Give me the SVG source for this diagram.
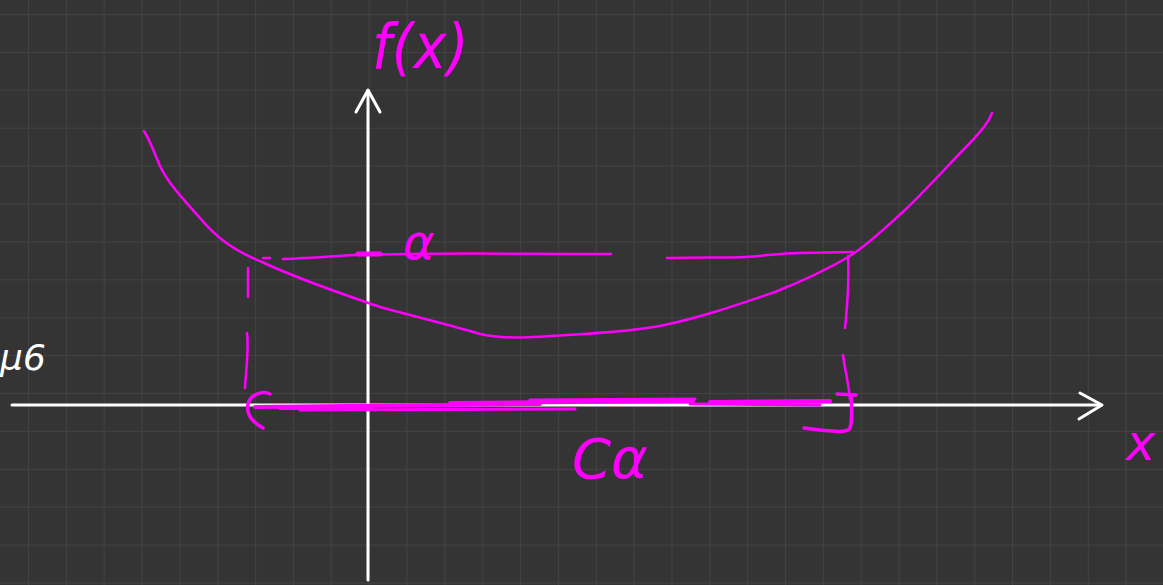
<svg xmlns="http://www.w3.org/2000/svg" width="1163" height="585" viewBox="0 0 1163 585">
  <defs>
    <pattern id="grid" x="28" y="14" width="37.85" height="37.9" patternUnits="userSpaceOnUse">
      <path d="M0 0 H37.85 M0 0 V37.9" fill="none" stroke="#424242" stroke-width="2"/>
    </pattern>
    <style>
      .ink { fill: none; stroke: #ff00ff; stroke-linecap: round; stroke-linejoin: round; }
      .axis { fill: none; stroke: #ffffff; stroke-width: 3; stroke-linecap: round; stroke-linejoin: round; }
      .lbl { fill: #ff00ff; font-family: "DejaVu Sans", "Liberation Sans", sans-serif; font-style: italic; }
    </style>
  </defs>
  <rect x="0" y="0" width="1163" height="585" fill="#343434"/>
  <rect x="0" y="0" width="1163" height="585" fill="url(#grid)"/>

  <g id="axes">
    <path class="axis" d="M368 580 V92"/>
    <path class="axis" d="M356 112 L368 90 L380 112"/>
    <path class="axis" d="M12 405 H1100"/>
    <path class="axis" d="M1080 393 L1102 405 L1079 419"/>
  </g>

  <g id="curve">
    <path class="ink" stroke-width="2.5" d="M144 131 C150 140 153 150 160 166 C168 183 182 198 200 218 C215 236 232 250 262 262 C300 280 340 293 380 307 C420 318 455 326 480 334 C500 339 525 338 550 336 C590 334 625 332 660 326 C700 318 740 304 775 292 C805 280 830 268 850 256 C870 243 885 228 905 210 C930 186 950 163 970 143 C980 132 988 124 992 113"/>
  </g>

  <g id="alpha-level">
    <path class="ink" stroke-width="2.5" d="M263 258 L270 258"/>
    <path class="ink" stroke-width="2.5" d="M283 259 C310 258 335 256 355 255 L410 254 C470 253 540 254 611 254"/>
    <path class="ink" stroke-width="5" d="M358 254 L380 254"/>
    <path class="ink" stroke-width="2.5" d="M667 258 C700 257 725 258 745 257 C765 256 780 253 800 253 L853 252"/>
    <text class="lbl" x="403" y="259" font-size="48">α</text>
  </g>

  <g id="interval">
    <path class="ink" stroke-width="2.5" d="M248 268 L248 297"/>
    <path class="ink" stroke-width="2.5" d="M247 333 C249 350 246 370 245 388"/>
    <path class="ink" stroke-width="2.5" d="M848 256 C849 275 848 300 845 328"/>
    <path class="ink" stroke-width="2.5" d="M843 355 C845 370 849 385 850 400"/>
    <path class="ink" stroke-width="3.5" d="M270 394 C262 390 250 395 248 404 C246 414 252 422 263 428"/>
    <path class="ink" stroke-width="3.5" d="M837 394 L856 395 M851 395 C852 410 852 422 850 428 C848 433 835 432 804 428"/>
    <path class="ink" stroke-width="4" d="M255 407 L540 404"/>
    <path class="ink" stroke-width="4" d="M280 408 L372 408"/>
    <path class="ink" stroke-width="3" d="M300 410 L575 409"/>
    <path class="ink" stroke-width="4" d="M450 403 L693 401"/>
    <path class="ink" stroke-width="3" d="M530 400 L695 399"/>
    <path class="ink" stroke-width="4" d="M710 402 L830 401"/>
    <path class="ink" stroke-width="3" d="M690 404 L820 405"/>
    <text class="lbl" x="572" y="478" font-size="56">Cα</text>
  </g>

  <g id="labels">
    <text class="lbl" x="372" y="70" font-size="56" transform="translate(0,-10) scale(1,1.12)">f(x)</text>
    <text class="lbl" x="1126" y="460" font-size="50">x</text>
    <text x="0" y="370" font-size="36" fill="#ffffff" font-family="DejaVu Sans, sans-serif" font-style="italic">μ6</text>
  </g>
</svg>
